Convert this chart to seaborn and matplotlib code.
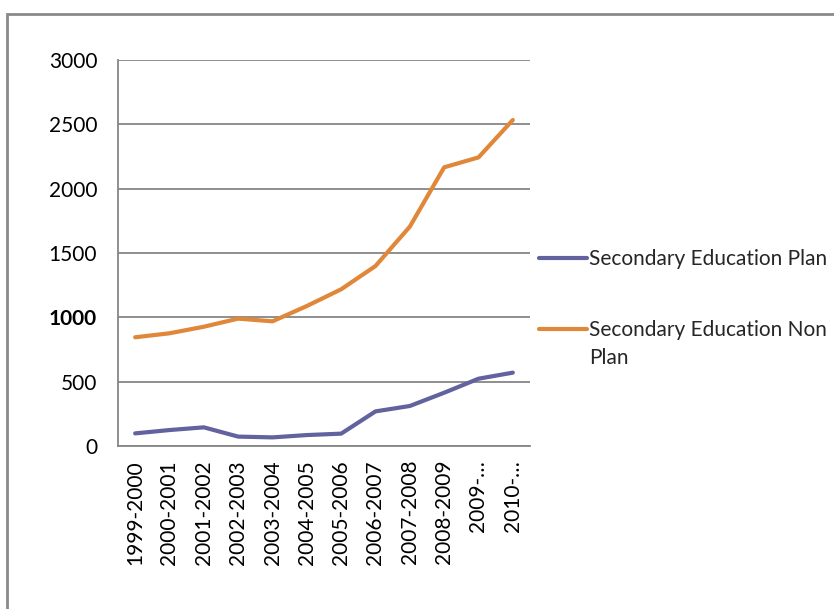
import seaborn as sns
import matplotlib.pyplot as plt
import matplotlib.patches as mpatches
import pandas as pd

# data
years = ["1999-2000", "2000-2001", "2001-2002", "2002-2003", "2003-2004", "2004-2005",
         "2005-2006", "2006-2007", "2007-2008", "2008-2009", "2009-…", "2010-…"]
plan = [98, 124, 145, 73, 67, 85, 96, 269, 311, 414, 523, 570]
non_plan = [845, 876, 927, 990, 969, 1088, 1218, 1399, 1705, 2166, 2243, 2534]
series_names = ["Secondary Education Plan", "Secondary Education Non Plan"]

df = pd.DataFrame({
    "x": list(range(len(years))) * 2,
    "value": plan + non_plan,
    "Series": [series_names[0]] * len(years) + [series_names[1]] * len(years),
})

sns.set_theme(style="white")
plt.rcParams["font.family"] = ["Lato", "DejaVu Sans"]

fs = 15
grid_col = "#868686"
fig = plt.figure(figsize=(8.34, 6.09), dpi=100)
ax = fig.add_axes([118 / 834, 1 - 446 / 609, (530 - 118) / 834, (446 - 60) / 609])

sns.lineplot(
    data=df,
    x="x",
    y="value",
    hue="Series",
    palette=["#62629E", "#E0873A"],
    linewidth=3,
    ax=ax,
)

ax.set_xlim(-0.5, len(years) - 0.5)
ax.set_ylim(0, 3000)
ax.set_yticks(range(0, 3001, 500))
ax.set_yticklabels([str(v) for v in range(0, 3001, 500)], fontsize=fs, color="black")
ax.get_yticklabels()[2].set_fontweight("bold")
ax.set_xticks(range(len(years)))
ax.set_xticklabels(years, rotation=90, fontsize=fs, color="black")
ax.set_xticks([i - 0.5 for i in range(len(years) + 1)], minor=True)
ax.tick_params(axis="x", which="major", length=0, pad=10)
ax.tick_params(axis="x", which="minor", length=6, color=grid_col, width=1.3, direction="out")
ax.tick_params(axis="y", length=6, color=grid_col, width=1.3, direction="out", pad=9)
ax.yaxis.grid(True, color=grid_col, linewidth=1.3)
ax.set_axisbelow(True)
for side in ["top", "right"]:
    ax.spines[side].set_visible(False)
for side in ["left", "bottom"]:
    ax.spines[side].set_color(grid_col)
    ax.spines[side].set_linewidth(1.3)
ax.set(xlabel=None, ylabel=None)

# legend: the long label wraps, with the line beside its first row
handles, labels = ax.get_legend_handles_labels()
leg = ax.legend(
    handles,
    ["Secondary Education Plan", "Secondary Education Non"],
    frameon=False,
    loc="upper left",
    bbox_to_anchor=(531 / 834, 1 - 241 / 609),
    bbox_transform=fig.transFigure,
    fontsize=fs,
    handlelength=2.3,
    handletextpad=0.1,
    labelspacing=2.45,
    borderaxespad=0,
)
fig.canvas.draw()
bb = leg.get_texts()[1].get_window_extent()
x0, y0 = fig.transFigure.inverted().transform((bb.x0, bb.y0 - 28))
fig.text(x0, y0, "Plan", fontsize=fs, va="bottom", ha="left")

# outer chart border (cut off at the right and bottom)
fig.patches.append(mpatches.Rectangle(
    (7 / 834, -0.1), 1.2, 1.1 - 14 / 609,
    transform=fig.transFigure, fill=False, edgecolor="#8a8a8a", linewidth=2,
))

fig.savefig("out.png", dpi=100)
plt.close()
